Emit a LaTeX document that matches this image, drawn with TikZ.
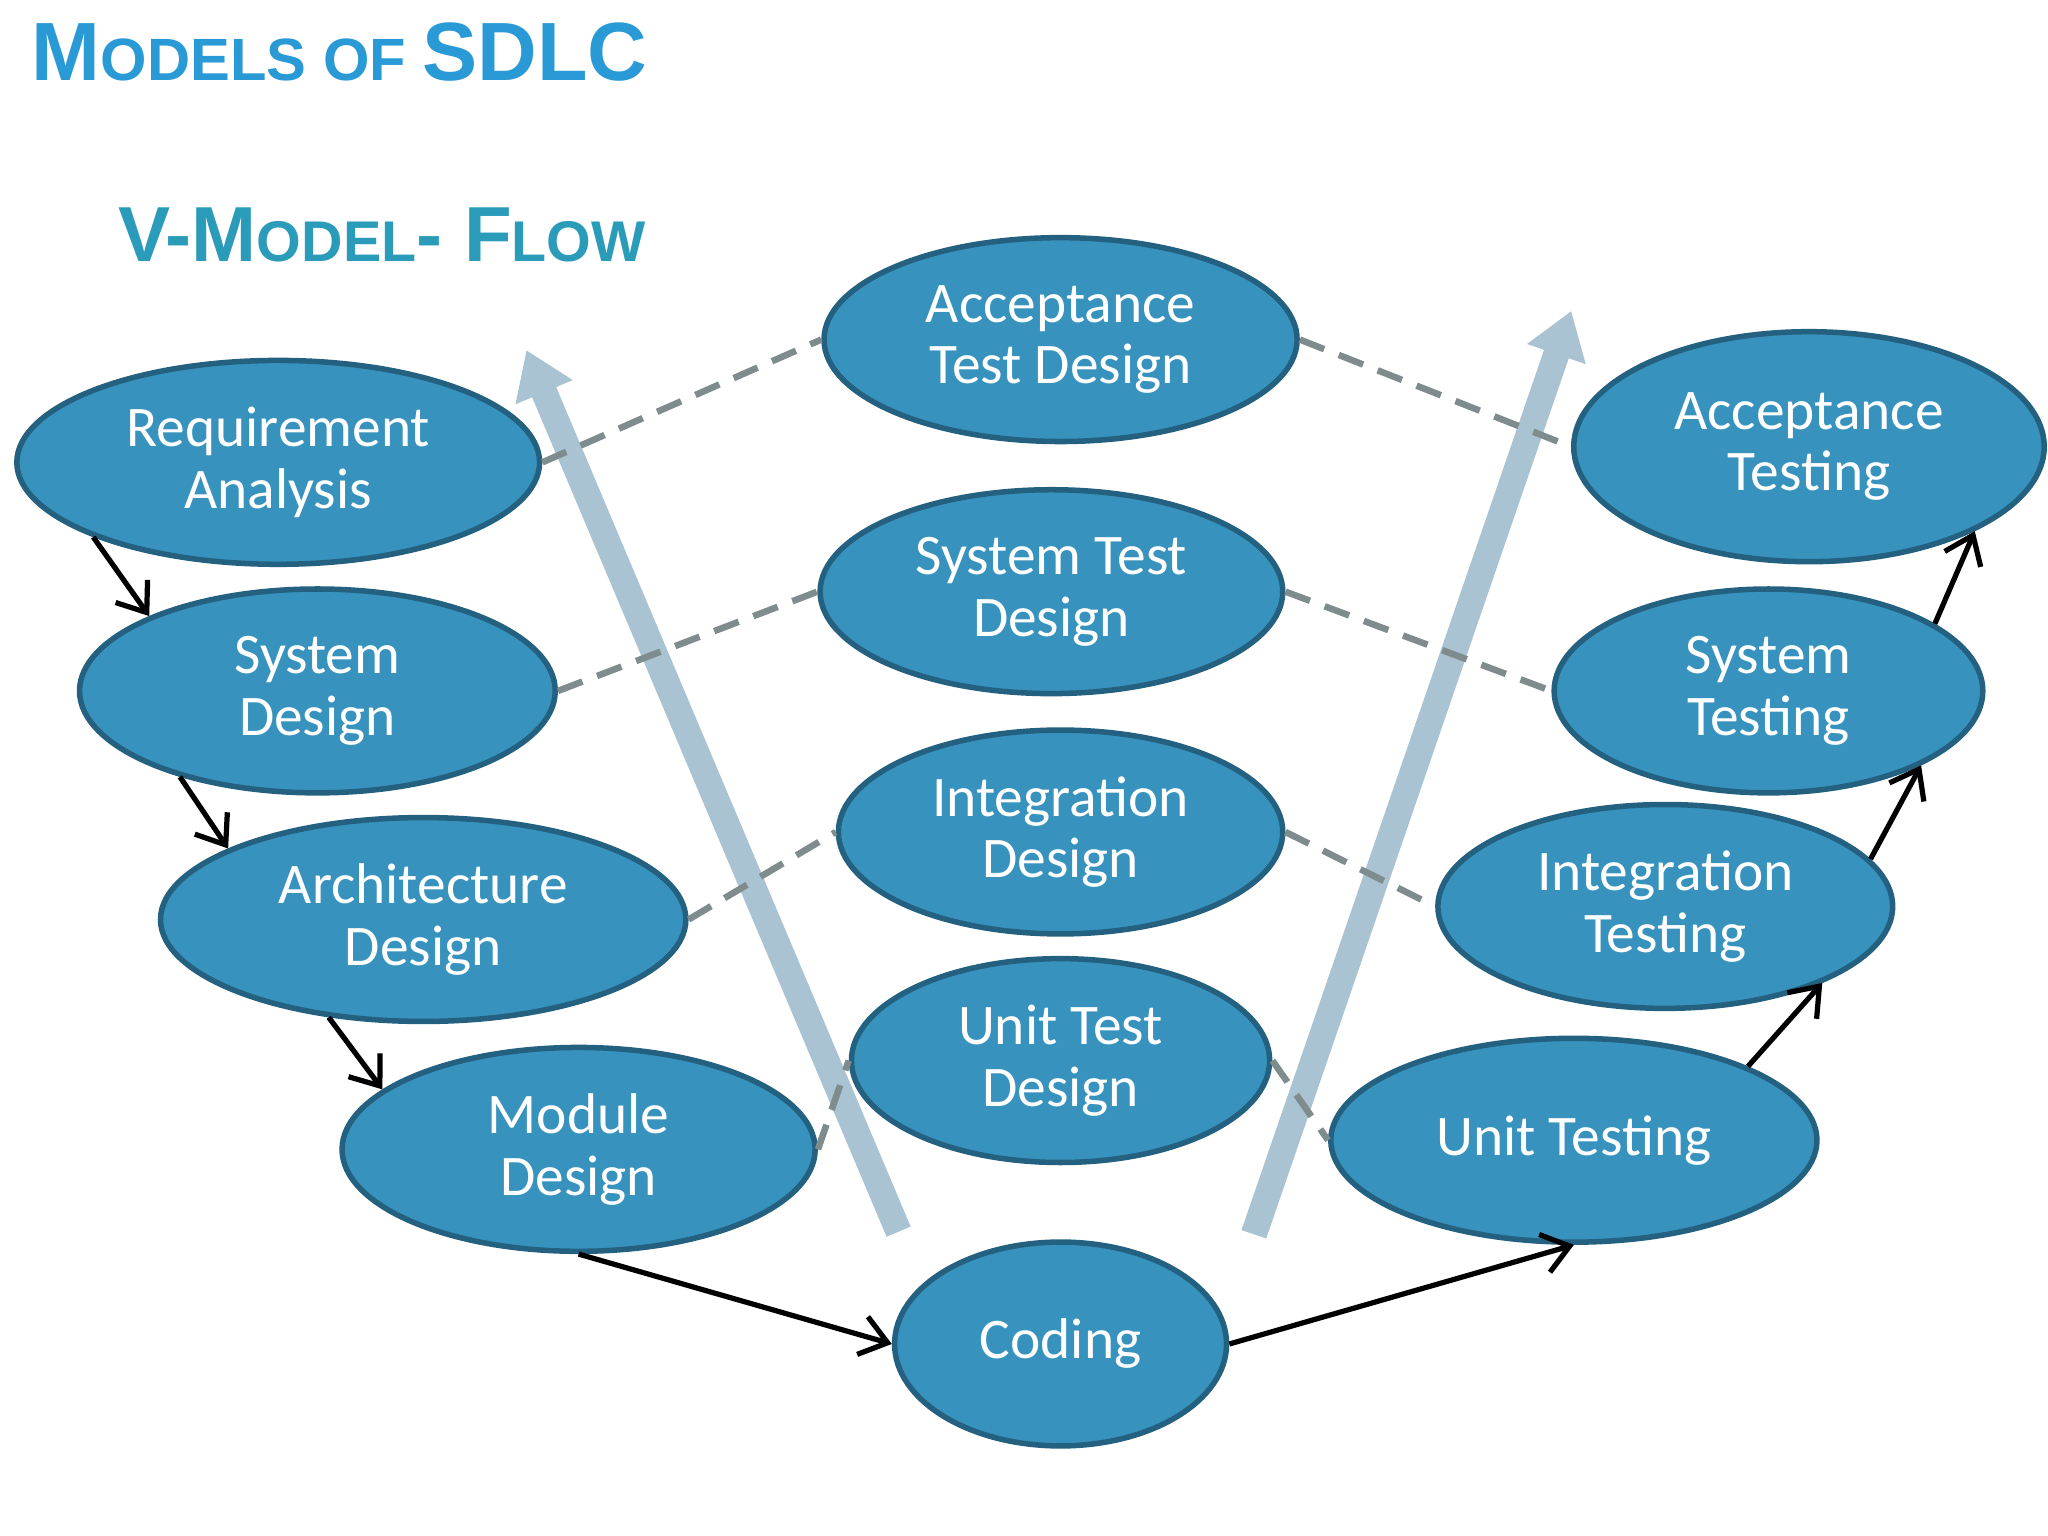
\documentclass[tikz,border=0pt]{standalone}
\usepackage{fontspec}
\setmainfont{Carlito}
\newfontfamily\titlef{Liberation Sans}
\usetikzlibrary{shapes.geometric,arrows.meta}
\definecolor{efill}{HTML}{3793BD}
\definecolor{edraw}{HTML}{24607F}
\definecolor{dashc}{HTML}{7F8C8D}
\definecolor{tblue}{HTML}{2A9AD6}
\definecolor{tteal}{HTML}{2A9BB8}
\definecolor{bigc}{HTML}{A9C3D2}
\begin{document}
\begin{tikzpicture}[x=0.01cm,y=-0.01cm,
 el/.style={ellipse,fill=efill,draw=edraw,line width=1.2pt,text=white,align=center,inner sep=0pt,
   font=\fontsize{12.5}{13.4}\selectfont},
 dl/.style={dashc,line width=0.05cm,dash pattern=on 0.2cm off 0.12cm},
 ar/.style={black,line width=0.04cm,-{Straight Barb[length=0.2cm,width=0.3cm,line width=0.04cm]}},
 big/.style={bigc,line width=0.2cm,-{Triangle[width=0.45cm,length=0.35cm]}}]
\useasboundingbox (0,0) rectangle (1568,1176);
\node[anchor=west,text=tblue,font=\titlef\bfseries] (t1) at (12,40) {\fontsize{18}{20}\selectfont M\fontsize{13}{20}\selectfont ODELS OF \fontsize{18}{20}\selectfont SDLC};
\node[anchor=west,text=tteal,font=\titlef\bfseries] (t2) at (78,180) {\fontsize{17}{20}\selectfont V-M\fontsize{12.5}{20}\selectfont ODEL\fontsize{17}{20}\selectfont - F\fontsize{12.5}{20}\selectfont LOW};
\coordinate (b1s) at (688,943); \coordinate (b1e) at (403,268);
\coordinate (b2s) at (960,945); \coordinate (b2e) at (1203,238);
\draw[big] (b1s) -- (b1e);
\draw[big] (b2s) -- (b2e);
\node[el,minimum width=4cm,minimum height=1.56cm] (req) at (213,354) {Requirement\\Analysis};
\node[el,minimum width=3.64cm,minimum height=1.56cm] (sysd) at (243,529) {System\\Design};
\node[el,minimum width=4.02cm,minimum height=1.56cm] (arch) at (324,704) {Architecture\\Design};
\node[el,minimum width=3.62cm,minimum height=1.56cm] (mod) at (443,880) {Module\\Design};
\node[el,minimum width=2.54cm,minimum height=1.56cm] (cod) at (812,1029) {Coding};
\node[el,minimum width=3.72cm,minimum height=1.56cm] (ut) at (1205,873) {Unit Testing};
\node[el,minimum width=3.48cm,minimum height=1.56cm] (it) at (1275,694) {Integration\\Testing};
\node[el,minimum width=3.28cm,minimum height=1.56cm] (st) at (1354,529) {System\\Testing};
\node[el,minimum width=3.6cm,minimum height=1.76cm] (at) at (1385,342) {Acceptance\\Testing};
\node[el,minimum width=3.62cm,minimum height=1.56cm] (atd) at (812,260) {Acceptance\\Test Design};
\node[el,minimum width=3.54cm,minimum height=1.56cm] (std) at (805,453) {System Test\\Design};
\node[el,minimum width=3.4cm,minimum height=1.56cm] (id) at (812,637) {Integration\\Design};
\node[el,minimum width=3.2cm,minimum height=1.56cm] (utd) at (812,812) {Unit Test\\Design};
\draw[dl] (req.east) -- (atd.west);
\draw[dl] (atd.east) -- (at.west);
\draw[dl] (sysd.east) -- (std.west);
\draw[dl] (std.east) -- (st.west);
\draw[dl] (arch.east) -- (id.west);
\draw[dl] (id.east) -- (it.west);
\draw[dl] (mod.east) -- (utd.west);
\draw[dl] (utd.east) -- (ut.west);
\draw[ar] (req.202) -- (sysd.156);
\draw[ar] (sysd.212) -- (arch.160);
\draw[ar] (arch.226) -- (mod.163);
\draw[ar] (mod.south) -- (cod.west);
\draw[ar] (cod.east) -- (ut.south);
\draw[ar] (ut.23) -- (it.334);
\draw[ar] (it.13) -- (st.334);
\draw[ar] (st.22) -- (at.333);
\end{tikzpicture}
\end{document}
